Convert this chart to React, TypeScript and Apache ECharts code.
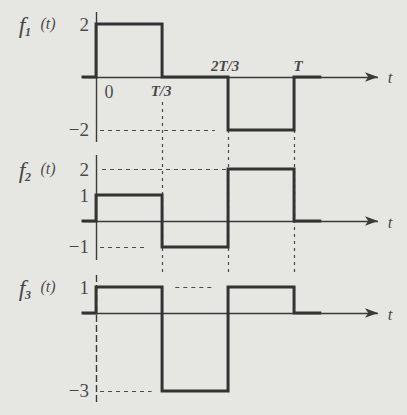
import React, { useEffect, useRef } from 'react';
import * as echarts from 'echarts';

// ---- data (time in units of T) ----
const breakpoints = [-0.066, 0, 1 / 3, 2 / 3, 1, 1.13];
const f1Levels = [0, 2, 0, -2, 0];
const f2Levels = [0, 1, -1, 2, 0];
const f3Levels = [0, 1, -3, 1, 0];
const xTickValues = [0, 1 / 3, 2 / 3, 1];
const xTickLabels = ['0', 'T/3', '2T/3', 'T'];
const f1Ticks = [2, -2];
const f2Ticks = [2, 1, -1];
const f3Ticks = [1, -3];
const axisStart = -0.066;
const axisEnd = 1.424;
const panelNames = ['1', '2', '3'];
const nameLevels = [2, 2, 1];
const yRanges: [number, number][] = [[-2.755, 2.453], [-1.577, 2.731], [-3.654, 1.962]];
const yAxisSpans: [number, number][] = [[2.453, -2.45], [2.54, -1.5], [1.46, -3.54]];
// dashed horizontal guides: [y, xFrom, xTo]
const hGuides1: [number, number, number][] = [[-2, 0.02, 0.6]];
const hGuides2: [number, number, number][] = [[2, 0.03, 2 / 3], [-1, 0.02, 0.26]];
const hGuides3: [number, number, number][] = [[1, 0.4, 0.59], [-3, 0.02, 0.28]];
// dotted vertical guides: [x, yFrom, yTo]
const vGuides1: [number, number, number][] = [[1 / 3, -0.94, -2.755], [2 / 3, -2, -2.755], [1, -2, -2.755]];
const vGuides2: [number, number, number][] = [[1 / 3, 2.731, -1.577], [2 / 3, 2.731, -1.577], [1, 2.731, -1.577]];
const vGuides3: [number, number, number][] = [[1 / 3, 1.962, 1.42], [2 / 3, 1.962, 1.42], [1, 1.962, 1.42]];

const SERIF = '"Liberation Serif", "DejaVu Serif", serif';
const INK = '#1a1a1a';
const grids = [
  { left: 83, width: 295, top: 12, height: 138 },
  { left: 83, width: 295, top: 150, height: 112 },
  { left: 83, width: 295, top: 262, height: 146 },
];

function stepData(levels: number[]) {
  const pts: number[][] = [];
  levels.forEach((v, i) => {
    pts.push([breakpoints[i], v]);
    pts.push([breakpoints[i + 1], v]);
  });
  return pts;
}

function fmtNum(v: number) {
  return v < 0 ? '\u2212' + Math.abs(v) : String(v);
}

function txt(value: number[], text: string, position: number[], extra: any = {}) {
  return {
    value,
    label: {
      formatter: text,
      position,
      align: 'center',
      verticalAlign: 'middle',
      fontFamily: SERIF,
      color: INK,
      ...extra,
    },
  };
}

export default function App() {
  const ref = useRef<HTMLDivElement>(null);
  useEffect(() => {
    if (!ref.current) return;
    const chart = echarts.init(ref.current, undefined, { renderer: 'svg' });
    const levelsAll = [f1Levels, f2Levels, f3Levels];
    const ticksAll = [f1Ticks, f2Ticks, f3Ticks];
    const hAll = [hGuides1, hGuides2, hGuides3];
    const vAll = [vGuides1, vGuides2, vGuides3];
    const dashStyle = { color: '#4a4a4a', width: 1.2, type: [4, 4] as number[] };
    const dotStyle = { color: '#4a4a4a', width: 1.2, type: [3, 4] as number[] };
    const series: any[] = [];
    levelsAll.forEach((levels, p) => {
      const ml: any[] = [];
      hAll[p].forEach(([y, x0, x1]) =>
        ml.push([
          { coord: [x0, y], lineStyle: dashStyle },
          { coord: [x1, y], lineStyle: dashStyle },
        ])
      );
      vAll[p].forEach(([x, y0, y1]) =>
        ml.push([
          { coord: [x, y0], lineStyle: dotStyle },
          { coord: [x, y1], lineStyle: dotStyle },
        ])
      );
      const yStyle =
        p === 2
          ? { color: '#3a3a3a', width: 1.4, type: [7, 3] as number[] }
          : { color: '#3a3a3a', width: 1.4, type: 'solid' };
      ml.push([
        { coord: [0, yAxisSpans[p][0]], lineStyle: yStyle },
        { coord: [0, yAxisSpans[p][1]], lineStyle: yStyle },
      ]);
      const xStyle = { color: '#3a3a3a', width: 1.4, type: 'solid' };
      ml.push([
        { coord: [axisStart, 0], lineStyle: xStyle, symbol: 'none' },
        { coord: [axisEnd, 0], lineStyle: xStyle, symbol: 'arrow', symbolSize: [7, 13] },
      ]);
      series.push({
        type: 'line',
        xAxisIndex: p,
        yAxisIndex: p,
        data: stepData(levels),
        symbol: 'none',
        z: 5,
        lineStyle: { color: '#333333', width: 3, join: 'miter', cap: 'square' },
        markLine: {
          silent: true,
          symbol: ['none', 'none'],
          label: { show: false },
          animation: false,
          z: 3,
          data: ml,
        },
      });
      const labels: any[] = [];
      const lv = nameLevels[p];
      labels.push(txt([0, lv], 'f', [-74, 1], { fontStyle: 'italic', fontSize: 24 }));
      labels.push(txt([0, lv], panelNames[p], [-68, 8], { fontStyle: 'italic', fontSize: 12, fontWeight: 'bold' }));
      labels.push(txt([0, lv], '(t)', [-48, -1], { fontStyle: 'italic', fontSize: 16 }));
      ticksAll[p].forEach((v) =>
        labels.push(txt([0, v], fmtNum(v), [-7, 0], { align: 'right', fontSize: 19 }))
      );
      labels.push(txt([axisEnd, 0], 't', [12, 1], { fontStyle: 'italic', fontSize: 17 }));
      if (p === 0) {
        const offs = [[13, 15], [-1, 14], [-3, -11], [4, -11]];
        xTickValues.forEach((xv, i) =>
          labels.push(
            txt([xv, 0], xTickLabels[i], offs[i], {
              fontStyle: i === 0 ? 'normal' : 'italic',
              fontWeight: i === 0 ? 'normal' : 'bold',
              fontSize: i === 0 ? 18 : 15,
            })
          )
        );
      }
      series.push({
        type: 'scatter',
        xAxisIndex: p,
        yAxisIndex: p,
        symbolSize: 0,
        clip: false,
        silent: true,
        z: 6,
        label: { show: true },
        data: labels,
      });
    });
    chart.setOption({
      animation: false,
      backgroundColor: '#e6e6e2',
      grid: grids,
      xAxis: grids.map((_, i) => ({
        type: 'value',
        gridIndex: i,
        min: axisStart,
        max: axisEnd,
        show: false,
      })),
      yAxis: grids.map((_, i) => ({
        type: 'value',
        gridIndex: i,
        min: yRanges[i][0],
        max: yRanges[i][1],
        show: false,
      })),
      series,
    });
    return () => chart.dispose();
  }, []);
  return (
    <div
      ref={ref}
      style={{ position: 'fixed', left: 0, top: 0, width: 407, height: 415 }}
    />
  );
}
